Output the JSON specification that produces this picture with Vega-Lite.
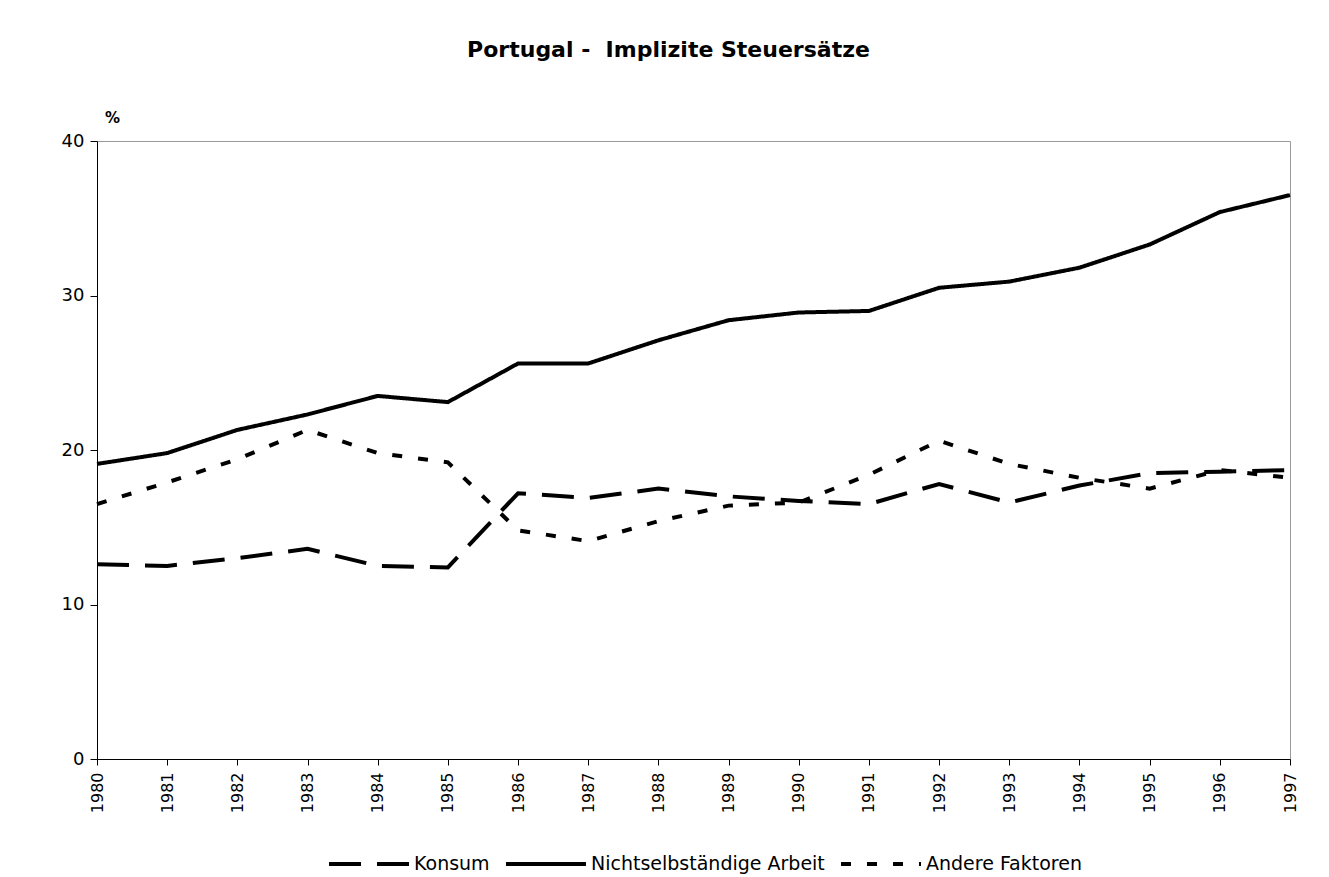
{
  "$schema": "https://vega.github.io/schema/vega-lite/v6.json",
  "autosize": {"type": "none"},
  "width": 1193,
  "height": 618,
  "padding": {"left": 97, "top": 141, "right": 39, "bottom": 118},
  "background": "white",
  "title": {
    "text": "Portugal - \u00a0Implizite Steuersätze",
    "font": "DejaVu Sans",
    "fontSize": 22,
    "fontWeight": "bold",
    "color": "black",
    "anchor": "middle",
    "dx": -25,
    "offset": 48
  },
  "data": {
    "values": [
      {"year": "1980", "series": "Konsum", "value": 12.6},
      {"year": "1981", "series": "Konsum", "value": 12.5},
      {"year": "1982", "series": "Konsum", "value": 13.0},
      {"year": "1983", "series": "Konsum", "value": 13.6},
      {"year": "1984", "series": "Konsum", "value": 12.5},
      {"year": "1985", "series": "Konsum", "value": 12.4},
      {"year": "1986", "series": "Konsum", "value": 17.2},
      {"year": "1987", "series": "Konsum", "value": 16.9},
      {"year": "1988", "series": "Konsum", "value": 17.5},
      {"year": "1989", "series": "Konsum", "value": 17.0},
      {"year": "1990", "series": "Konsum", "value": 16.7},
      {"year": "1991", "series": "Konsum", "value": 16.5},
      {"year": "1992", "series": "Konsum", "value": 17.8},
      {"year": "1993", "series": "Konsum", "value": 16.6},
      {"year": "1994", "series": "Konsum", "value": 17.7},
      {"year": "1995", "series": "Konsum", "value": 18.5},
      {"year": "1996", "series": "Konsum", "value": 18.6},
      {"year": "1997", "series": "Konsum", "value": 18.7},
      {"year": "1980", "series": "Nichtselbständige Arbeit", "value": 19.1},
      {"year": "1981", "series": "Nichtselbständige Arbeit", "value": 19.8},
      {"year": "1982", "series": "Nichtselbständige Arbeit", "value": 21.3},
      {"year": "1983", "series": "Nichtselbständige Arbeit", "value": 22.3},
      {"year": "1984", "series": "Nichtselbständige Arbeit", "value": 23.5},
      {"year": "1985", "series": "Nichtselbständige Arbeit", "value": 23.1},
      {"year": "1986", "series": "Nichtselbständige Arbeit", "value": 25.6},
      {"year": "1987", "series": "Nichtselbständige Arbeit", "value": 25.6},
      {"year": "1988", "series": "Nichtselbständige Arbeit", "value": 27.1},
      {"year": "1989", "series": "Nichtselbständige Arbeit", "value": 28.4},
      {"year": "1990", "series": "Nichtselbständige Arbeit", "value": 28.9},
      {"year": "1991", "series": "Nichtselbständige Arbeit", "value": 29.0},
      {"year": "1992", "series": "Nichtselbständige Arbeit", "value": 30.5},
      {"year": "1993", "series": "Nichtselbständige Arbeit", "value": 30.9},
      {"year": "1994", "series": "Nichtselbständige Arbeit", "value": 31.8},
      {"year": "1995", "series": "Nichtselbständige Arbeit", "value": 33.3},
      {"year": "1996", "series": "Nichtselbständige Arbeit", "value": 35.4},
      {"year": "1997", "series": "Nichtselbständige Arbeit", "value": 36.5},
      {"year": "1980", "series": "Andere Faktoren", "value": 16.5},
      {"year": "1981", "series": "Andere Faktoren", "value": 17.9},
      {"year": "1982", "series": "Andere Faktoren", "value": 19.4},
      {"year": "1983", "series": "Andere Faktoren", "value": 21.3},
      {"year": "1984", "series": "Andere Faktoren", "value": 19.8},
      {"year": "1985", "series": "Andere Faktoren", "value": 19.2},
      {"year": "1986", "series": "Andere Faktoren", "value": 14.8},
      {"year": "1987", "series": "Andere Faktoren", "value": 14.1},
      {"year": "1988", "series": "Andere Faktoren", "value": 15.4},
      {"year": "1989", "series": "Andere Faktoren", "value": 16.4},
      {"year": "1990", "series": "Andere Faktoren", "value": 16.6},
      {"year": "1991", "series": "Andere Faktoren", "value": 18.4},
      {"year": "1992", "series": "Andere Faktoren", "value": 20.6},
      {"year": "1993", "series": "Andere Faktoren", "value": 19.1},
      {"year": "1994", "series": "Andere Faktoren", "value": 18.2},
      {"year": "1995", "series": "Andere Faktoren", "value": 17.5},
      {"year": "1996", "series": "Andere Faktoren", "value": 18.7},
      {"year": "1997", "series": "Andere Faktoren", "value": 18.2}
    ]
  },
  "mark": {"type": "line", "color": "black", "strokeWidth": 4, "strokeCap": "butt"},
  "encoding": {
    "x": {
      "field": "year",
      "type": "ordinal",
      "scale": {"type": "point", "padding": 0},
      "axis": {
        "title": null,
        "labelAngle": -90,
        "labelFont": "DejaVu Sans",
        "labelFontSize": 16,
        "labelColor": "black",
        "labelPadding": 7,
        "domainColor": "black",
        "tickColor": "black",
        "tickSize": 6,
        "grid": false
      }
    },
    "y": {
      "field": "value",
      "type": "quantitative",
      "scale": {"domain": [0, 40], "nice": false},
      "axis": {
        "values": [0, 10, 20, 30, 40],
        "title": "%",
        "titleAngle": 0,
        "titleFont": "DejaVu Sans",
        "titleFontSize": 15,
        "titleFontWeight": "bold",
        "titleColor": "black",
        "titleX": 15,
        "titleY": -19,
        "titleAlign": "center",
        "titleBaseline": "alphabetic",
        "labelFont": "DejaVu Sans",
        "labelFontSize": 18,
        "labelColor": "black",
        "labelPadding": 6,
        "domainColor": "black",
        "tickColor": "black",
        "tickSize": 7,
        "grid": false
      }
    },
    "strokeDash": {
      "field": "series",
      "type": "nominal",
      "scale": {
        "domain": ["Konsum", "Nichtselbständige Arbeit", "Andere Faktoren"],
        "range": [[32, 16], [1, 0], [10, 16]]
      },
      "legend": {
        "title": null,
        "orient": "none",
        "direction": "horizontal",
        "legendX": 230,
        "legendY": 681,
        "symbolType": "stroke",
        "symbolSize": 6400,
        "symbolStrokeWidth": 4,
        "symbolStrokeColor": "black",
        "labelFont": "DejaVu Sans",
        "labelFontSize": 19,
        "labelColor": "black",
        "labelOffset": 3,
        "labelLimit": 400,
        "columnPadding": 8
      }
    }
  },
  "config": {
    "view": {"stroke": "#999999", "strokeWidth": 1}
  }
}
